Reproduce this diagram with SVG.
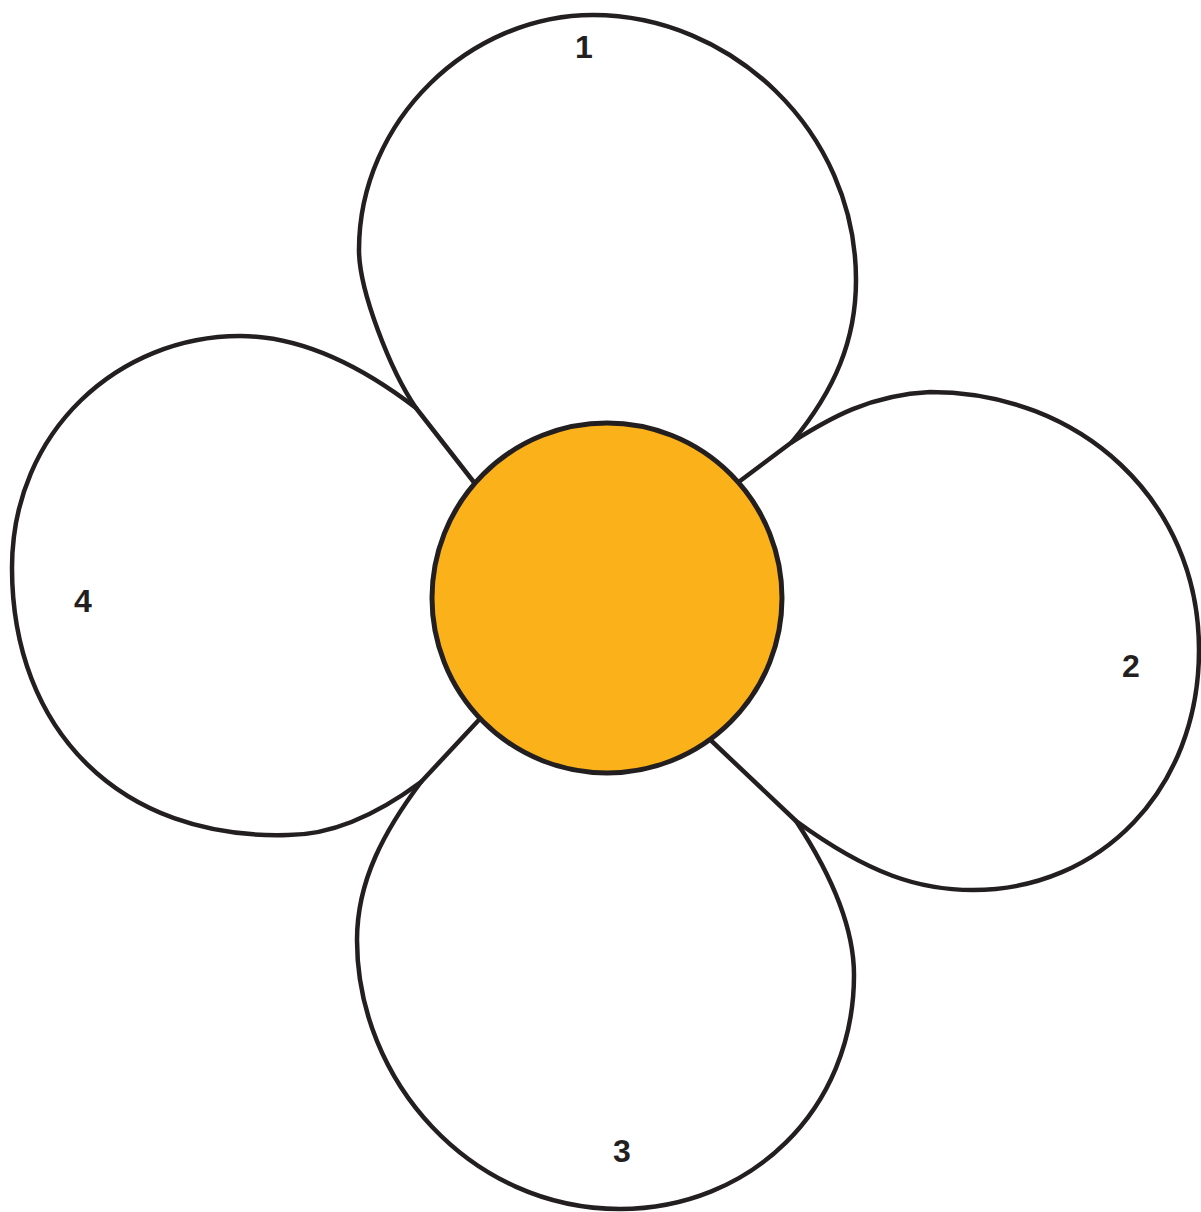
<svg xmlns="http://www.w3.org/2000/svg" width="1201" height="1212" viewBox="0 0 1201 1212">
  <style>
    .petal { fill: none; stroke: #231f20; stroke-width: 4.5; stroke-linecap: round; stroke-linejoin: round; }
    .center { fill: #fab11a; stroke: #231f20; stroke-width: 5; }
    .label { font-family: "Liberation Sans", Arial, sans-serif; font-weight: bold; font-size: 32px; fill: #231f20; text-anchor: middle; }
  </style>
  <rect x="0" y="0" width="1201" height="1212" fill="#ffffff"/>
  <g id="petal-4">
    <path class="petal" d="M 490,708 L 421,782 C 390,805 340,835 288,835 C 120,840 12,730 12,568 C 12,430 120,336 240,336 C 300,336 360,365 416,408"/>
    <text class="label" x="83" y="612">4</text>
  </g>
  <g id="petal-1">
    <path class="petal" d="M 480,490 L 416,408 C 390,370 359,290 359,250 C 359,120 470,15 593,15 C 730,15 856,130 856,280 C 856,340 835,390 792,442"/>
    <text class="label" x="584" y="58">1</text>
  </g>
  <g id="petal-2">
    <path class="petal" d="M 728,490 L 792,442 C 830,418 870,395 930,392 C 1080,392 1199,500 1199,650 C 1199,790 1100,890 973,890 C 920,890 870,875 796,821"/>
    <text class="label" x="1131" y="677">2</text>
  </g>
  <g id="petal-3">
    <path class="petal" d="M 700,730 L 796,821 C 825,865 854,920 854,975 C 854,1110 750,1209 620,1209 C 470,1209 357,1080 357,940 C 357,880 385,830 421,782"/>
    <text class="label" x="622" y="1162">3</text>
  </g>
  <g id="connectors"></g>
  <g id="center-node">
    <circle class="center" cx="607" cy="598" r="175"/>
  </g>
</svg>
